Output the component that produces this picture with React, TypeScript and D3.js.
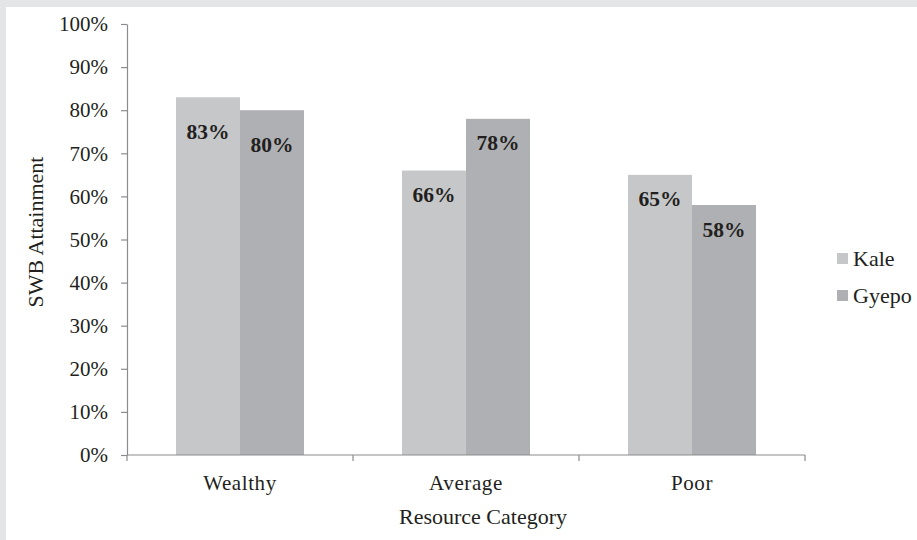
import React, { useEffect, useRef } from 'react';
import * as d3 from 'd3';

// ---- data ----
const categories = ['Wealthy', 'Average', 'Poor'];
const seriesNames = ['Kale', 'Gyepo'];
const kaleValues = [0.83, 0.66, 0.65];
const gyepoValues = [0.8, 0.78, 0.58];
const yTicks = [0, 0.1, 0.2, 0.3, 0.4, 0.5, 0.6, 0.7, 0.8, 0.9, 1.0];

const colors = ['#c6c7c9', '#afb0b3'];
const textColor = '#231f20';
const axisColor = '#8c8c8e';
const font = '"Liberation Serif", "Times New Roman", serif';

const W = 917, H = 540;

export default function App() {
  const ref = useRef<SVGSVGElement>(null);

  useEffect(() => {
    const svg = d3.select(ref.current);
    svg.selectAll('*').remove();

    // background frame
    svg.append('rect').attr('width', W).attr('height', H).attr('fill', '#e4e5e7');
    svg.append('rect').attr('x', 6).attr('y', 7).attr('width', W - 6).attr('height', H - 7).attr('fill', '#ffffff');

    const plot = { left: 127, right: 805, top: 24, bottom: 455 };

    // scales
    const x0 = d3.scaleBand<string>().domain(categories).range([plot.left, plot.right]).padding(0);
    const x1 = d3.scaleBand<string>().domain(seriesNames).range([0, x0.bandwidth()]).paddingInner(0).paddingOuter(0.766);
    const y = d3.scaleLinear().domain([0, 1]).range([plot.bottom, plot.top]);

    const rows = categories.map((c, i) => ({
      cat: c,
      vals: [
        { name: seriesNames[0], v: kaleValues[i], ci: 0 },
        { name: seriesNames[1], v: gyepoValues[i], ci: 1 },
      ],
    }));

    // y axis
    const yAxis = d3.axisLeft(y)
      .tickValues(yTicks)
      .tickSize(6)
      .tickSizeOuter(0)
      .tickPadding(13)
      .tickFormat((d) => Math.round((d as number) * 100) + '%');

    const gy = svg.append('g').attr('transform', `translate(${plot.left},0)`).call(yAxis);
    gy.select('.domain').attr('stroke', axisColor).attr('stroke-width', 1.2);
    gy.selectAll('.tick line').attr('stroke', axisColor).attr('stroke-width', 1.2);
    gy.selectAll('.tick text')
      .attr('fill', textColor)
      .style('font-family', font)
      .style('font-size', '21px');

    // bars
    const groups = svg.selectAll('g.grp')
      .data(rows)
      .enter()
      .append('g')
      .attr('class', 'grp')
      .attr('transform', (d) => `translate(${x0(d.cat)},0)`);

    groups.selectAll('rect')
      .data((d) => d.vals)
      .enter()
      .append('rect')
      .attr('x', (d) => x1(d.name) as number)
      .attr('y', (d) => y(d.v))
      .attr('width', x1.bandwidth())
      .attr('height', (d) => y(0) - y(d.v))
      .attr('fill', (d) => colors[d.ci]);

    // value labels, inside end (Wealthy ones sit a little lower in the original)
    groups.each(function (row) {
      const drop = row.cat === 'Wealthy' ? 42 : 31.5;
      d3.select(this).selectAll('text.val')
        .data(row.vals)
        .enter()
        .append('text')
        .attr('class', 'val')
        .attr('x', (d) => (x1(d.name) as number) + x1.bandwidth() / 2)
        .attr('y', (d) => y(d.v) + drop)
        .attr('text-anchor', 'middle')
        .attr('fill', textColor)
        .style('font-family', font)
        .style('font-weight', 'bold')
        .style('font-size', '21.5px')
        .text((d) => Math.round(d.v * 100) + '%');
    });

    // x axis line + boundary ticks
    svg.append('line')
      .attr('x1', plot.left).attr('x2', plot.right)
      .attr('y1', y(0)).attr('y2', y(0))
      .attr('stroke', axisColor).attr('stroke-width', 1.2);

    const bounds = categories.map((c) => x0(c) as number).concat([plot.right]);
    svg.selectAll('line.xtick')
      .data(bounds)
      .enter()
      .append('line')
      .attr('class', 'xtick')
      .attr('x1', (d) => d).attr('x2', (d) => d)
      .attr('y1', y(0)).attr('y2', y(0) + 6)
      .attr('stroke', axisColor).attr('stroke-width', 1.2);

    svg.selectAll('text.cat')
      .data(categories)
      .enter()
      .append('text')
      .attr('class', 'cat')
      .attr('x', (d) => (x0(d) as number) + x0.bandwidth() / 2)
      .attr('y', 490)
      .attr('text-anchor', 'middle')
      .attr('fill', textColor)
      .style('font-family', font)
      .style('font-size', '21px')
      .style('letter-spacing', '0.6px')
      .text((d) => d);

    // axis titles
    svg.append('text')
      .attr('x', 483).attr('y', 524)
      .attr('text-anchor', 'middle')
      .attr('fill', textColor)
      .style('font-family', font)
      .style('font-size', '22px')
      .text('Resource Category');

    svg.append('text')
      .attr('transform', 'translate(43,232) rotate(-90)')
      .attr('text-anchor', 'middle')
      .attr('fill', textColor)
      .style('font-family', font)
      .style('font-size', '22px')
      .text('SWB Attainment');

    // legend
    const legend = svg.selectAll('g.leg')
      .data(seriesNames)
      .enter()
      .append('g')
      .attr('class', 'leg')
      .attr('transform', (d, i) => `translate(837,${253 + i * 37})`);

    legend.append('rect')
      .attr('width', 11).attr('height', 11)
      .attr('fill', (d, i) => colors[i]);

    legend.append('text')
      .attr('x', 16).attr('y', 13)
      .attr('fill', textColor)
      .style('font-family', font)
      .style('font-size', '22px')
      .text((d) => d);
  }, []);

  return (
    <div style={{ position: 'absolute', left: 0, top: 0 }}>
      <svg ref={ref} width={W} height={H} style={{ display: 'block' }} />
    </div>
  );
}
